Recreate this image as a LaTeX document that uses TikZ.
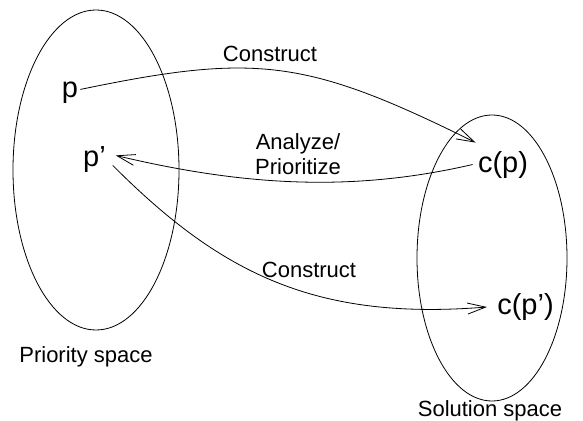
\documentclass[tikz,border=0pt]{standalone}
\usepackage{fontspec}
\setmainfont{Liberation Sans}
\usetikzlibrary{arrows.meta}
\begin{document}
\begin{tikzpicture}[x=1pt,y=-1pt,
  line width=0.8pt,
  lbl/.style={font=\fontsize{22}{25}\selectfont, inner sep=0pt, anchor=base, align=center},
  elem/.style={font=\fontsize{29}{32}\selectfont, inner sep=2pt, anchor=base},
  conn/.style={-{Straight Barb[length=18pt,width=11pt,line width=0.8pt]}}]
\useasboundingbox (0,0) rectangle (583,420);
% spaces
\draw (96,170) ellipse [x radius=83, y radius=160];
\draw (492,258) ellipse [x radius=75, y radius=143];
% elements
\node[elem] (p) at (70,97) {p};
\node[elem] (p2) at (94.5,166) {p’};
\node[elem] (cp) at (503,172) {c(p)};
\node[elem] (cp2) at (525.5,314) {c(p’)};
% labels
\node[lbl] (l1) at (270,61) {Construct};
\node[lbl, anchor=north] (l2) at (298,133) {Analyze/\\Prioritize};
\node[lbl] (l3) at (309,277) {Construct};
\node[lbl] (ps) at (86,362) {Priority space};
\node[lbl] (ss) at (490,416) {Solution space};
% connectors
\draw[conn] (p.15) .. controls (256,53) and (306,58.5) .. ([yshift=6pt]cp.north west);
\draw[conn] ([xshift=-3pt]cp.west) .. controls (356,191.5) and (248,187) .. ([xshift=7.6pt,yshift=3.6pt]p2.east);
\draw[conn] ([xshift=4.6pt,yshift=-6.4pt]p2.east) .. controls (222,275) and (317,320.6) .. ([xshift=-8pt,yshift=-0.5pt]cp2.west);
\end{tikzpicture}
\end{document}
